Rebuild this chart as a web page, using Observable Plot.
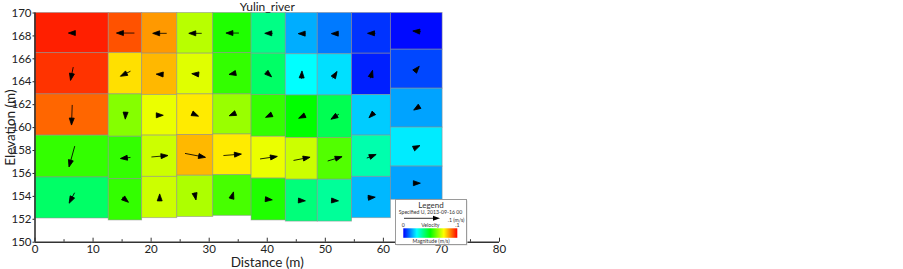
<!DOCTYPE html>
<html><head><meta charset="utf-8">
<script src="https://cdn.jsdelivr.net/npm/d3@7"></script>
<script src="https://cdn.jsdelivr.net/npm/@observablehq/plot@0.6"></script>
<style>
body{margin:0;background:#fff;}
#wrap{position:relative;width:903px;height:269px;overflow:hidden;background:#fff;}
#wrap svg{position:absolute;left:0;top:0;}
</style></head><body><div id="wrap"></div>
<script>
// ---- data ----
const title = "Yulin_river";
const xLabel = "Distance (m)";
const yLabel = "Elevation (m)";
const xMajor = [0, 10, 20, 30, 40, 50, 60, 70, 80];
const xMinor = [5, 15, 25, 35, 45, 55, 65, 75];
const yTicks = [150, 152, 154, 156, 158, 160, 162, 164, 166, 168, 170];

// column edges (m)
const xEdges = [0, 12.7, 18.45, 24.5, 30.7, 37.3, 43.2, 48.7, 54.6, 61.3, 70.2];
// layer boundaries per column, surface to bed (m)
const layerBounds = [
  [170, 166.5, 162.9, 159.3, 155.65, 152.07],
  [170, 166.5, 162.9, 159.2, 155.5, 151.9],
  [170, 166.45, 162.85, 159.3, 155.7, 152.1],
  [170, 166.45, 162.9, 159.35, 155.8, 152.2],
  [170, 166.5, 162.9, 159.4, 155.85, 152.3],
  [170, 166.45, 162.85, 159.2, 155.55, 151.9],
  [170, 166.4, 162.8, 159.1, 155.45, 151.8],
  [170, 166.4, 162.8, 159.1, 155.45, 151.8],
  [170, 166.45, 162.85, 159.3, 155.7, 152.1],
  [170, 166.8, 163.4, 160.0, 156.6, 153.7]
];
// velocity magnitude (m/s), rows top->bottom, columns left->right
const magnitude = [
  [0.097, 0.092, 0.085, 0.068, 0.053, 0.037, 0.017, 0.012, 0.005, 0.001],
  [0.095, 0.078, 0.082, 0.072, 0.055, 0.040, 0.025, 0.022, 0.003, 0.007],
  [0.090, 0.063, 0.073, 0.077, 0.065, 0.055, 0.050, 0.042, 0.020, 0.016],
  [0.055, 0.055, 0.070, 0.082, 0.077, 0.073, 0.070, 0.058, 0.033, 0.023],
  [0.040, 0.055, 0.070, 0.067, 0.057, 0.053, 0.038, 0.035, 0.018, 0.016]
];
// horizontal (u) and vertical (w) velocity components shown as arrows (m/s)
const uVel = [
  [-0.014, -0.050, -0.039, -0.036, -0.036, -0.022, -0.020, -0.020, -0.022, -0.022],
  [-0.0075, -0.028, -0.019, -0.019, -0.019, 0.016, 0.001, 0.012, 0.006, 0.014],
  [-0.002, -0.001, 0.020, 0.018, -0.017, -0.017, -0.017, -0.022, -0.014, -0.017],
  [-0.016, -0.028, 0.046, 0.057, 0.050, 0.048, 0.046, 0.040, 0.026, 0.017],
  [-0.015, 0.017, 0.000, 0.004, 0.006, 0.020, 0.020, 0.020, 0.021, 0.020]
];
const wVel = [
  [0.000, 0.000, 0.000, 0.000, 0.000, 0.000, 0.000, 0.000, 0.000, 0.002],
  [-0.037, -0.014, 0.001, 0.002, -0.004, -0.014, 0.022, 0.019, 0.022, 0.016],
  [-0.056, -0.020, 0.000, -0.008, -0.007, -0.008, -0.008, -0.014, -0.014, -0.011],
  [-0.058, -0.003, 0.004, -0.011, 0.004, 0.007, 0.009, 0.012, 0.010, 0.008],
  [-0.029, -0.014, 0.020, -0.020, 0.020, -0.002, -0.001, -0.001, 0.002, 0.000]
];
const colorStops = [0, 0.025, 0.05, 0.075, 0.1];
const colorRange = ["#0000ff", "#00ffff", "#00ff00", "#ffff00", "#ff0000"];
const refVelocity = 0.1;
const legendTitle = "Legend";
const legendSub = "Specified U, 2013-09-16 00";
const legendRef = ".1 (m/s)";
const legendMin = "0", legendMid = "Velocity", legendMax = ".1";
const legendBar = "Magnitude (m/s)";

// ---- build table ----
const cells = [];
for (let c = 0; c < xEdges.length - 1; c++) {
  for (let r = 0; r < 5; r++) {
    const u = uVel[r][c], w = wVel[r][c];
    const y1 = layerBounds[c][r + 1], y2 = layerBounds[c][r];
    cells.push({
      x1: xEdges[c], x2: xEdges[c + 1], y1, y2,
      cx: (xEdges[c] + xEdges[c + 1]) / 2, cy: (y1 + y2) / 2,
      mag: magnitude[r][c],
      len: Math.hypot(u, w),
      ang: Math.atan2(u, w) * 180 / Math.PI
    });
  }
}

const HEAD = 7, WING = 2.5;
const arrowShape = {
  draw(context, l) {
    const L = Math.max(l, HEAD);
    const tip = -L / 2, tail = L / 2;
    if (l > HEAD) { context.moveTo(0, tail); context.lineTo(0, tip + HEAD - 1); }
    context.moveTo(0, tip);
    context.lineTo(-WING, tip + HEAD);
    context.lineTo(WING, tip + HEAD);
    context.closePath();
  }
};

const pxPerUnit = 360; // arrow length px per m/s
const font = "Lato, 'Open Sans', sans-serif";

const chart = Plot.plot({
  width: 903, height: 269,
  marginLeft: 34.5, marginRight: 404, marginTop: 12.5, marginBottom: 27.3,
  x: {domain: [0, 80]},
  y: {domain: [150, 170]},
  color: {type: "linear", domain: colorStops, range: colorRange, interpolate: "rgb"},
  length: {type: "linear", domain: [0, 1], range: [0, pxPerUnit]},
  style: {fontFamily: font, background: "white", color: "#222"},
  marks: [
    Plot.rect(cells, {x1: "x1", x2: "x2", y1: "y1", y2: "y2", fill: "mag", stroke: "#8c8c8c", strokeWidth: 0.9, strokeOpacity: 0.6}),
    Plot.vector(cells, {x: "cx", y: "cy", length: "len", rotate: "ang", anchor: "start", shape: arrowShape,
      fill: "black", stroke: "black", strokeWidth: 0.8, strokeLinejoin: "miter", strokeLinecap: "butt"}),
    Plot.ruleY([150], {x1: 0, x2: 80, stroke: "#333", strokeWidth: 1.6}),
    Plot.ruleX([0], {y1: 150, y2: 170, stroke: "#333", strokeWidth: 1.6}),
    Plot.ruleX(xMajor, {y1: 150, y2: 150.35, stroke: "#333", strokeWidth: 1}),
    Plot.ruleX(xMinor, {y1: 150, y2: 150.22, stroke: "#333", strokeWidth: 1}),
    Plot.axisX({ticks: xMajor, tickSize: 0, tickPadding: 3, fontSize: 11.5, label: null}),
    Plot.axisY({ticks: yTicks, tickSize: 2, tickPadding: 1.5, fontSize: 11.5, label: null}),
    Plot.text([xLabel], {text: d => d, frameAnchor: "bottom", lineAnchor: "middle", textAnchor: "middle", dy: 20.5, fontSize: 13.5}),
    Plot.text([yLabel], {text: d => d, frameAnchor: "left", lineAnchor: "middle", textAnchor: "middle", dx: -24, rotate: -90, fontSize: 13.5}),
    Plot.text([title], {text: d => d, frameAnchor: "top", lineAnchor: "middle", textAnchor: "middle", dy: -6, fontSize: 12})
  ]
});
const wrap = document.getElementById("wrap");
wrap.appendChild(chart);

// ---- legend overlay ----
const svg = d3.select(wrap).append("svg").attr("width", 903).attr("height", 269)
  .style("font-family", font);
const gx = 395.5, gy = 199.5, gw = 71, gh = 45, cxL = gx + gw / 2;
svg.append("rect").attr("x", gx + 1).attr("y", gy + 1).attr("width", gw).attr("height", gh).attr("fill", "#ddd");
svg.append("rect").attr("x", gx).attr("y", gy).attr("width", gw).attr("height", gh).attr("fill", "white").attr("stroke", "#9a9a9a");
svg.append("text").attr("x", cxL).attr("y", gy + 8).attr("text-anchor", "middle").attr("font-size", 8).attr("fill", "#333").text(legendTitle);
svg.append("text").attr("x", cxL - 0.5).attr("y", gy + 14).attr("text-anchor", "middle").attr("font-size", 5.2).attr("fill", "#333").text(legendSub);
const arrowLen = refVelocity * pxPerUnit;
const ax0 = 404, ay = 218.3;
svg.append("line").attr("x1", ax0).attr("x2", ax0 + arrowLen - HEAD + 1).attr("y1", ay).attr("y2", ay).attr("stroke", "black").attr("stroke-width", 0.8);
svg.append("path").attr("d", `M${ax0 + arrowLen},${ay}L${ax0 + arrowLen - HEAD},${ay - WING}L${ax0 + arrowLen - HEAD},${ay + WING}Z`).attr("fill", "black");
svg.append("text").attr("x", gx + gw - 2).attr("y", ay + 3.5).attr("text-anchor", "end").attr("font-size", 5.2).attr("fill", "#333").text(legendRef);
const barX = 403.3, barW = 54, barY = 228.3, barH = 9.5;
svg.append("text").attr("x", barX).attr("y", 226.5).attr("text-anchor", "middle").attr("font-size", 5.2).attr("fill", "#333").text(legendMin);
svg.append("text").attr("x", barX + barW / 2).attr("y", 226.5).attr("text-anchor", "middle").attr("font-size", 5.2).attr("fill", "#333").text(legendMid);
svg.append("text").attr("x", barX + barW).attr("y", 226.5).attr("text-anchor", "middle").attr("font-size", 5.2).attr("fill", "#333").text(legendMax);
const grad = svg.append("defs").append("linearGradient").attr("id", "jet");
colorStops.forEach((s, i) => grad.append("stop").attr("offset", s / colorStops[colorStops.length - 1]).attr("stop-color", colorRange[i]));
svg.append("rect").attr("x", barX).attr("y", barY).attr("width", barW).attr("height", barH).attr("fill", "url(#jet)");
svg.append("text").attr("x", cxL).attr("y", 243).attr("text-anchor", "middle").attr("font-size", 5.2).attr("fill", "#333").text(legendBar);
</script></body></html>
